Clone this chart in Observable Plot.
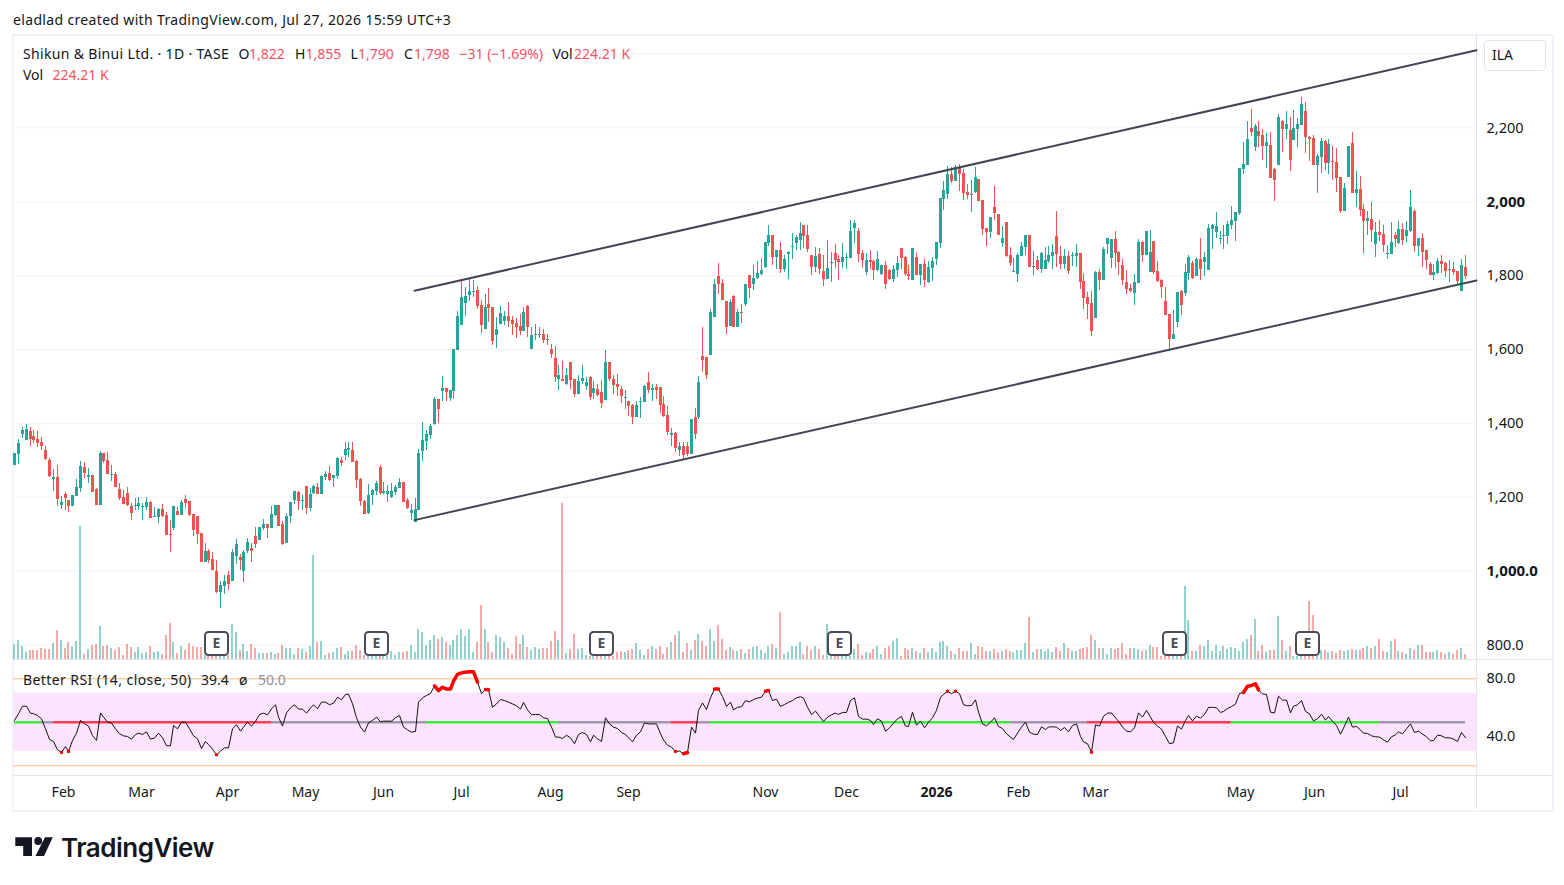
<!DOCTYPE html>
<html><head><meta charset="utf-8">
<script src="https://cdn.jsdelivr.net/npm/d3@7"></script>
<script src="https://cdn.jsdelivr.net/npm/@observablehq/plot@0.6"></script>
<style>
html,body{margin:0;padding:0;background:#fff;}
#stage{position:relative;width:1564px;height:885px;overflow:hidden;font-family:"Noto Sans",sans-serif;color:#131722;font-size:14px;}
#stage svg{position:absolute;left:0;}
.t{position:absolute;white-space:pre;line-height:18px;}
.r{color:#f7525f;}
.ln{position:absolute;background:#e0e3eb;}
</style></head><body>
<div id="stage">
<div class="t" style="left:13px;top:11px;letter-spacing:0.34px;">eladlad created with TradingView.com, Jul 27, 2026 15:59 UTC+3</div>
<div id="frame" style="position:absolute;left:12px;top:34px;width:1538px;height:774px;border:2px solid #f0f3fa;"></div>
<div class="ln" style="left:13px;top:659px;width:1538px;height:1px;"></div>
<div class="ln" style="left:13px;top:775px;width:1538px;height:1px;"></div>
<div class="ln" style="left:1476px;top:35px;width:1px;height:774px;"></div>
<div id="charts"></div>
<div class="t" style="left:23px;top:45px;letter-spacing:0.33px;">Shikun &amp; Binui Ltd. · 1D · TASE</div>
<div class="t" style="left:238.5px;top:45px;">O</div><div class="t r" style="left:249px;top:45px;">1,822</div>
<div class="t" style="left:295px;top:45px;">H</div><div class="t r" style="left:305.5px;top:45px;">1,855</div>
<div class="t" style="left:350.5px;top:45px;">L</div><div class="t r" style="left:358px;top:45px;">1,790</div>
<div class="t" style="left:404px;top:45px;">C</div><div class="t r" style="left:414px;top:45px;">1,798</div>
<div class="t r" style="left:459.5px;top:45px;">−31 (−1.69%)</div>
<div class="t" style="left:552.5px;top:45px;">Vol</div><div class="t r" style="left:574px;top:45px;">224.21 K</div>
<div class="t" style="left:23px;top:66px;">Vol</div><div class="t r" style="left:52.5px;top:66px;">224.21 K</div>
<div class="t" style="left:23px;top:671px;letter-spacing:0.42px;">Better RSI (14, close, 50)</div>
<div class="t" style="left:201px;top:671px;">39.4</div>
<div class="t" style="left:239px;top:671px;">ø</div>
<div class="t" style="left:258px;top:671px;color:#8f929c;">50.0</div>
<div style="position:absolute;left:1484px;top:40px;width:60px;height:29px;border:1px solid #e0e3eb;border-radius:4px;"></div>
<div class="t" style="left:1492px;top:46px;">ILA</div>
<svg width="40" height="22" style="left:14px;top:836px;" viewBox="0 0 40 22"><path fill="#131722" d="M1.3 1.3H18V20H9.2V10H1.3Z"/><circle cx="24.2" cy="5" r="3.9" fill="#131722"/><path fill="#131722" d="M31 1.3H38.8L30 20H21.5Z"/></svg>
<div class="t" style="left:61px;top:832px;font-family:Inter,sans-serif;font-weight:600;font-size:26px;line-height:32px;letter-spacing:-0.5px;color:#131722;">TradingView</div>
</div>
<script>
const open = [
1286,1316,1370,1354,1377,1364,1356,1348,1326,1299,
1248,1253,1178,1207,1192,1175,1203,1224,1281,1253,
1259,1221,1178,1318,1300,1258,1262,1221,1200,1210,
1175,1175,1175,1173,1173,1186,1146,1146,1167,1151,
1100,1116,1162,1151,1194,1189,1154,1148,1102,1024,
1054,1032,1000,943,959,989,973,1040,1038,1000,
1054,1062,1094,1084,1116,1127,1116,1151,1178,1127,
1075,1148,1192,1213,1189,1229,1170,1211,1227,1208,
1254,1265,1251,1257,1300,1313,1327,1327,1297,1248,
1189,1156,1205,1216,1281,1211,1208,1200,1213,1224,
1240,1192,1157,1132,1165,1324,1351,1367,1397,1465,
1486,1495,1468,1486,1597,1665,1724,1746,1754,1759,
1719,1654,1722,1713,1638,1668,1676,1689,1678,1670,
1662,1649,1716,1600,1638,1638,1640,1627,1600,1576,
1519,1519,1505,1565,1519,1478,1513,1500,1524,1481,
1492,1484,1462,1565,1519,1505,1492,1468,1459,1449,
1416,1457,1457,1511,1489,1497,1497,1451,1422,1367,
1373,1327,1338,1338,1316,1416,1416,1581,1578,1584,
1686,1797,1778,1730,1662,1743,1660,1700,1722,1800,
1776,1792,1803,1822,1887,1908,1849,1868,1816,1857,
1876,1887,1895,1935,1908,1854,1822,1857,1811,1789,
1832,1860,1843,1835,1846,1846,1927,1919,1860,1808,
1841,1838,1814,1803,1827,1814,1789,1814,1873,1849,
1803,1787,1849,1800,1830,1781,1819,1843,1887,2005,
2019,2073,2054,2089,2076,2024,2016,2024,2060,2003,
1927,1916,1984,1965,1887,1943,1854,1808,1803,1851,
1876,1908,1822,1841,1816,1816,1838,1851,1905,1851,
1830,1851,1851,1851,1860,1784,1740,1724,1684,1808,
1787,1884,1846,1897,1862,1827,1781,1765,1751,1778,
1889,1854,1808,1892,1811,1786,1730,1695,1627,1673,
1757,1751,1805,1832,1797,1843,1835,1814,1924,1916,
1897,1905,1905,1935,1946,1968,2087,2098,2198,2147,
2190,2179,2150,2152,2087,2098,2217,2196,2193,2166,
2196,2206,2244,2174,2171,2098,2120,2163,2104,2109,
2106,2066,1974,2066,2158,2023,2033,1979,1947,1952,
1885,1917,1912,1858,1858,1909,1887,1925,1906,1920,
1974,1879,1901,1868,1831,1801,1806,1839,1833,1814,
1817,1812,1758,1822];
const high = [
1318,1356,1390,1397,1388,1380,1377,1362,1337,1304,
1275,1286,1202,1214,1192,1205,1248,1297,1294,1277,
1259,1224,1323,1319,1321,1286,1267,1237,1219,1226,
1183,1196,1198,1184,1199,1189,1172,1169,1181,1160,
1138,1175,1172,1192,1205,1189,1154,1148,1102,1075,
1059,1051,1030,973,988,1000,1058,1085,1046,1057,
1089,1075,1119,1119,1140,1127,1175,1178,1178,1135,
1156,1186,1216,1216,1205,1229,1225,1232,1237,1259,
1270,1284,1259,1307,1308,1348,1348,1348,1300,1251,
1192,1235,1221,1243,1286,1240,1232,1237,1231,1250,
1240,1197,1181,1197,1330,1401,1381,1397,1470,1465,
1527,1495,1489,1600,1703,1784,1768,1792,1786,1770,
1732,1749,1765,1713,1686,1716,1703,1727,1689,1684,
1695,1713,1719,1659,1668,1659,1654,1640,1613,1608,
1557,1567,1549,1565,1519,1530,1557,1524,1527,1513,
1505,1516,1597,1565,1530,1532,1500,1489,1459,1451,
1459,1470,1503,1538,1505,1505,1497,1473,1446,1386,
1376,1349,1349,1349,1411,1440,1527,1659,1578,1708,
1789,1832,1789,1730,1735,1746,1708,1722,1776,1800,
1827,1838,1846,1889,1935,1908,1868,1889,1854,1865,
1914,1908,1943,1935,1935,1854,1876,1873,1854,1895,
1862,1884,1854,1886,1860,1948,1948,1927,1868,1860,
1868,1841,1865,1827,1838,1816,1827,1851,1873,1851,
1827,1873,1862,1830,1843,1838,1849,1889,2008,2054,
2095,2092,2097,2100,2087,2046,2057,2092,2060,2003,
1927,1957,2041,1965,1932,1943,1876,1846,1860,1889,
1908,1908,1865,1851,1862,1876,1878,1884,1973,1878,
1870,1865,1862,1884,1860,1805,1754,1757,1811,1816,
1876,1900,1897,1919,1865,1843,1813,1776,1803,1897,
1892,1919,1922,1892,1838,1789,1768,1695,1705,1754,
1760,1830,1854,1838,1846,1900,1862,1938,1938,1970,
1919,1935,1946,1986,1970,2090,2160,2217,2250,2209,
2217,2196,2185,2187,2090,2236,2220,2244,2228,2247,
2225,2282,2269,2177,2179,2128,2171,2166,2169,2150,
2144,2066,2050,2150,2187,2082,2068,1993,1974,1998,
1944,1950,1936,1882,1944,1917,1947,1941,1947,2031,
1979,1901,1914,1868,1836,1831,1847,1855,1836,1841,
1836,1812,1844,1855];
const low = [
1286,1289,1360,1354,1338,1345,1336,1327,1300,1253,
1216,1175,1167,1165,1160,1175,1203,1214,1250,1237,
1213,1178,1178,1291,1262,1243,1226,1192,1180,1174,
1138,1163,1163,1136,1165,1142,1145,1130,1145,1097,
1051,1109,1151,1151,1169,1148,1094,1073,1024,1024,
1021,1002,940,900,938,948,973,1019,1002,970,
1049,1024,1062,1084,1111,1089,1116,1147,1121,1070,
1075,1130,1181,1165,1165,1154,1162,1207,1208,1208,
1246,1243,1226,1248,1284,1300,1308,1294,1224,1175,
1154,1154,1178,1205,1205,1208,1187,1197,1206,1224,
1186,1166,1138,1132,1165,1297,1327,1357,1395,1400,
1459,1459,1459,1465,1597,1665,1689,1730,1740,1708,
1643,1654,1673,1611,1603,1668,1665,1659,1638,1630,
1638,1649,1632,1600,1624,1630,1616,1611,1576,1511,
1489,1513,1503,1492,1470,1478,1505,1489,1462,1465,
1473,1440,1462,1513,1478,1473,1454,1438,1419,1397,
1416,1413,1457,1481,1459,1465,1427,1416,1368,1338,
1322,1311,1300,1311,1316,1357,1411,1538,1519,1584,
1686,1749,1732,1640,1662,1660,1660,1670,1716,1738,
1759,1789,1801,1819,1878,1827,1816,1805,1808,1789,
1843,1868,1868,1873,1862,1800,1808,1803,1770,1789,
1781,1819,1787,1819,1816,1846,1887,1835,1819,1800,
1816,1787,1811,1800,1762,1787,1781,1795,1816,1797,
1787,1787,1800,1773,1768,1778,1784,1827,1873,1976,
2005,2049,2054,2027,2003,2005,1970,2022,2000,1908,
1878,1900,1949,1908,1876,1849,1824,1808,1781,1851,
1854,1822,1800,1813,1805,1816,1832,1816,1822,1816,
1816,1803,1824,1822,1762,1708,1681,1635,1684,1760,
1787,1857,1819,1819,1800,1773,1749,1754,1719,1778,
1835,1854,1808,1803,1781,1738,1692,1595,1627,1660,
1692,1743,1787,1789,1797,1787,1797,1814,1870,1900,
1884,1870,1884,1924,1892,1963,2074,2098,2177,2136,
2147,2112,2090,2063,2001,2098,2133,2169,2082,2166,
2147,2206,2131,2109,2098,2023,2077,2085,2074,2058,
2025,1968,1974,2066,2023,1985,1960,1860,1909,1890,
1850,1893,1863,1844,1858,1877,1885,1882,1890,1917,
1863,1852,1823,1817,1801,1787,1804,1806,1795,1782,
1801,1777,1758,1790];
const close = [
1318,1345,1380,1383,1356,1354,1346,1338,1302,1257,
1253,1194,1186,1196,1175,1204,1226,1284,1264,1259,
1213,1178,1319,1297,1262,1262,1226,1196,1180,1178,
1156,1178,1184,1175,1186,1143,1148,1167,1148,1097,
1097,1175,1151,1186,1184,1151,1111,1100,1024,1054,
1030,1002,943,962,973,965,1051,1073,1030,1051,
1078,1054,1073,1119,1127,1116,1154,1178,1121,1073,
1148,1186,1216,1189,1192,1170,1208,1229,1208,1257,
1262,1246,1259,1305,1292,1329,1332,1294,1246,1189,
1154,1205,1219,1238,1211,1216,1216,1216,1227,1240,
1186,1170,1165,1167,1319,1354,1370,1392,1465,1438,
1495,1484,1489,1600,1689,1740,1743,1757,1757,1716,
1665,1713,1711,1622,1654,1697,1689,1676,1668,1659,
1649,1700,1659,1638,1640,1640,1624,1624,1586,1524,
1530,1513,1530,1516,1478,1513,1522,1511,1470,1495,
1476,1454,1565,1519,1503,1497,1473,1470,1446,1416,
1449,1459,1500,1489,1495,1489,1449,1419,1376,1373,
1332,1338,1313,1316,1411,1370,1511,1570,1530,1700,
1776,1776,1732,1659,1727,1660,1700,1697,1776,1765,
1792,1805,1814,1889,1908,1849,1868,1816,1843,1862,
1878,1903,1914,1905,1870,1822,1851,1816,1789,1819,
1835,1841,1835,1849,1849,1919,1941,1857,1841,1841,
1835,1814,1843,1827,1776,1789,1816,1832,1846,1803,
1797,1873,1800,1830,1787,1822,1838,1889,2008,2030,
2073,2054,2092,2073,2022,2016,2019,2065,2000,1924,
1916,1957,1968,1908,1900,1851,1832,1811,1854,1878,
1908,1822,1824,1816,1860,1841,1854,1862,1857,1830,
1851,1811,1854,1860,1781,1738,1722,1649,1808,1787,
1870,1900,1897,1860,1835,1787,1762,1757,1781,1889,
1854,1919,1862,1808,1784,1768,1692,1627,1641,1754,
1719,1808,1849,1792,1843,1816,1849,1927,1935,1932,
1900,1908,1938,1949,1970,2090,2101,2169,2187,2204,
2177,2150,2160,2063,2058,2228,2196,2209,2112,2198,
2209,2263,2174,2169,2098,2123,2163,2104,2155,2106,
2063,1974,2036,2150,2023,2033,1977,1947,1955,1923,
1917,1909,1882,1860,1890,1898,1925,1895,1923,1985,
1879,1901,1863,1841,1801,1809,1839,1831,1812,1817,
1809,1785,1828,1798];
const volumeK = [
644,812,560,308,392,392,392,476,434,434,
686,1232,812,476,728,560,770,5600,224,434,
602,644,1400,560,602,476,392,518,182,644,
518,308,518,266,308,560,308,350,224,1022,
1526,728,266,560,392,686,560,518,518,182,
140,140,140,140,140,182,1484,1148,392,644,
350,644,476,266,266,266,308,224,266,602,
476,476,224,476,434,308,560,4382,728,770,
182,266,308,476,518,224,350,350,602,392,
182,140,140,140,140,140,140,350,182,308,
308,350,602,308,1274,1148,602,812,1022,854,
938,728,602,812,1022,1274,980,1274,308,728,
2282,1274,728,308,1022,938,728,476,224,980,
644,1022,518,392,518,434,476,476,770,1190,
812,6552,266,434,1064,434,476,182,140,140,
140,140,140,140,140,308,350,308,392,434,
686,392,182,434,560,434,560,224,518,728,
1022,1190,308,686,392,812,1064,770,560,1274,
770,1442,854,392,518,392,350,434,266,434,
518,560,392,266,560,644,476,1988,224,308,
560,560,728,224,560,392,560,434,182,1484,
140,140,140,140,140,140,434,644,182,308,
266,434,560,224,476,560,770,896,140,462,
392,462,350,252,462,294,462,280,714,770,
560,350,224,462,350,350,672,224,560,504,
350,350,420,280,322,420,350,308,392,392,
686,1778,280,420,420,350,420,280,504,350,
686,462,350,350,420,462,518,1022,812,462,
462,196,462,420,462,686,224,462,462,420,
350,392,602,504,504,140,140,140,140,140,
140,3080,1652,350,350,602,560,812,350,602,
350,560,420,504,462,350,728,854,1022,1694,
350,602,308,392,392,1820,812,350,560,140,
140,140,140,2450,1862,140,392,392,308,350,
266,392,350,392,434,392,392,462,560,462,
560,854,350,308,770,854,350,308,224,476,
392,602,602,308,308,308,392,308,224,308,
224,392,476,224];
const rsi = [
51.3,55.9,61.1,61.1,56.3,55.9,54.7,52.4,45.5,38.2,
36.8,31.0,29.2,33.3,29.8,37.5,42.5,51.3,49.0,47.4,
40.9,37.5,56.5,53.6,50.1,49.4,45.5,42.1,40.7,40.2,
38.4,41.6,42.5,41.6,43.4,38.4,39.1,42.5,39.3,33.8,
33.8,47.8,45.5,50.1,50.1,45.5,40.7,38.6,31.9,36.8,
34.7,31.5,27.6,30.1,32.4,32.4,45.5,48.3,43.9,46.7,
50.1,47.4,50.6,55.4,56.3,55.2,59.3,62.1,53.6,47.4,
56.5,60.0,62.1,59.1,59.1,56.3,59.8,62.1,59.3,63.9,
63.9,62.1,63.2,67.3,65.5,69.2,69.4,62.8,53.1,46.7,
43.2,49.6,51.3,53.6,50.3,50.8,50.8,50.8,53.1,54.7,
46.7,44.8,43.2,43.7,63.9,66.9,68.5,69.8,75.2,71.9,
74.2,72.9,72.9,78.4,83.0,84.1,84.6,84.8,84.8,77.7,
69.8,72.6,72.4,60.4,62.7,65.7,65.0,63.9,62.7,61.4,
59.1,63.7,58.6,55.2,55.4,55.4,53.1,52.6,46.7,39.8,
39.8,38.8,41.1,39.3,35.2,41.6,43.0,41.6,36.5,41.1,
38.6,36.8,53.1,48.9,46.7,45.7,43.0,41.6,39.3,36.5,
41.1,43.4,49.6,48.9,48.9,48.9,42.1,37.9,34.2,32.9,
29.8,30.2,28.3,29.2,46.7,42.5,58.2,63.4,58.8,66.9,
72.9,72.9,67.8,60.9,63.9,58.6,60.4,60.7,65.0,64.1,
65.7,66.7,67.3,71.5,71.9,65.0,66.0,60.9,62.3,63.7,
65.0,66.9,67.6,66.7,60.4,55.4,57.7,54.0,50.6,53.6,
55.2,56.3,55.4,56.8,56.8,65.0,66.9,54.0,52.2,52.2,
51.3,48.5,52.4,50.8,43.9,46.2,49.4,52.4,54.0,47.4,
47.1,57.0,48.0,50.8,46.2,50.1,53.1,58.2,67.3,69.2,
71.5,69.6,71.5,69.8,62.1,61.4,61.6,65.5,57.0,48.9,
47.6,50.1,53.1,47.1,45.7,42.1,39.8,38.2,42.5,46.7,
50.1,43.2,41.8,41.6,46.9,45.0,46.7,46.9,46.7,44.4,
46.4,43.4,47.8,48.9,40.2,36.5,35.2,29.4,48.3,47.4,
54.2,56.3,56.5,53.1,50.8,46.7,43.9,43.4,46.2,56.5,
53.6,58.2,53.6,49.9,47.4,45.3,40.2,35.2,35.9,47.4,
45.3,51.3,54.7,51.0,54.2,52.9,55.4,60.2,60.4,60.0,
56.8,57.5,59.5,60.9,62.5,69.9,70.6,74.9,75.4,76.5,
72.4,69.6,69.2,57.0,56.5,68.0,65.3,65.3,56.5,61.1,
62.1,65.0,57.5,55.9,51.0,52.4,55.6,51.5,54.0,50.8,
47.8,41.8,47.4,53.6,46.7,47.1,44.8,42.5,42.3,40.7,
40.0,39.8,37.9,36.3,40.0,41.4,43.4,42.1,45.5,48.9,
43.0,43.9,41.8,40.0,37.2,37.5,41.1,40.7,39.3,39.3,
38.4,36.8,43.0,39.4];

const priceTicks = [800,1000,1200,1400,1600,1800,2000,2200];
const priceLabels = ["800.0","1,000.0","1,200","1,400","1,600","1,800","2,000","2,200"];
const boldPrices = [1000,2000];
const gridPrices = [800,1000,1200,1400,1600,1800,2000,2200,2400];
const rsiTicks = [80,40];
const rsiLabels = ["80.0","40.0"];
const timeTicks = [12.6,32.6,54.8,74.8,94.9,115,137.8,157.9,193.1,213.9,237,258.2,278,315.3,334.3,356.4];
const timeLabels = ["Feb","Mar","Apr","May","Jun","Jul","Aug","Sep","Nov","Dec","2026","Feb","Mar","May","Jun","Jul"];
const boldTimes = [237];
const earnings = [52,93.1,150.9,212.1,298.3,332.5];
const upperTrend = [{d:102.85,p:1759},{d:375.94,p:2410}];
const lowerTrend = [{d:102.85,p:1138},{d:375.94,p:1787}];
const segStart = [0,7,10,66,106,140,169,176,179,256,276,313,351];
const segEnd = [7,10,66,106,140,169,176,179,256,276,313,351,373];
const segState = ["up","flat","down","flat","up","flat","down","flat","up","flat","down","up","flat"];

const GREEN="#26a69a", RED="#ef5350", FONT='"Noto Sans",sans-serif', INK="#131722";
const days = d3.range(open.length);
const candleColor = i => close[i] >= open[i] ? GREEN : RED;
const xDomain = [-0.26,375.94];
const priceLabel = new Map(d3.zip(priceTicks,priceLabels));
const rsiLabel = new Map(d3.zip(rsiTicks,rsiLabels));
const timeLabel = new Map(d3.zip(timeTicks,timeLabels));
const base = {width:1564, marginLeft:13, marginRight:88};
const roundedBox = {draw(ctx,size){const r=Math.sqrt(size/Math.PI),c=3.5;
  ctx.moveTo(-r+c,-r);ctx.lineTo(r-c,-r);ctx.arcTo(r,-r,r,-r+c,c);ctx.lineTo(r,r-c);ctx.arcTo(r,r,r-c,r,c);
  ctx.lineTo(-r+c,r);ctx.arcTo(-r,r,-r,r-c,c);ctx.lineTo(-r,-r+c);ctx.arcTo(-r,-r,-r+c,-r,c);ctx.closePath();}};

const priceChart = Plot.plot({...base, height:660, marginTop:35, marginBottom:1,
  style:{background:"transparent",fontFamily:FONT,fontSize:"14px",color:INK,top:"0px"},
  x:{domain:xDomain, round:true, axis:null},
  y:{domain:[760.7,2450.1]},
  marks:[
    Plot.ruleY(gridPrices,{stroke:"#f0f3fa",strokeWidth:1}),
    Plot.ruleX(days,{x:i=>i,y1:i=>low[i],y2:i=>high[i],stroke:candleColor,strokeWidth:1,clip:true,shapeRendering:"crispEdges"}),
    Plot.ruleX(days,{x:i=>i,y1:i=>open[i],y2:i=>close[i],stroke:candleColor,strokeWidth:3,clip:true,shapeRendering:"crispEdges"}),
    Plot.line(upperTrend,{x:"d",y:"p",stroke:"#434651",strokeWidth:2}),
    Plot.line(lowerTrend,{x:"d",y:"p",stroke:"#434651",strokeWidth:2}),
    Plot.axisY(priceTicks.filter(v=>!boldPrices.includes(v)),{anchor:"right",tickSize:0,tickPadding:10,label:null,tickFormat:v=>priceLabel.get(v),fontSize:14.5}),
    Plot.axisY(boldPrices,{anchor:"right",tickSize:0,tickPadding:10,label:null,tickFormat:v=>priceLabel.get(v),fontSize:15,fontWeight:"bold"})
  ]});

const volumeChart = Plot.plot({...base, height:660, marginTop:35, marginBottom:1,
  style:{background:"transparent",fontFamily:FONT,fontSize:"14px",color:INK,top:"0px"},
  x:{domain:xDomain, round:true, axis:null},
  y:{domain:[0,26208], axis:null},
  marks:[
    Plot.ruleX(days,{x:i=>i,y1:0,y2:i=>volumeK[i],stroke:candleColor,strokeOpacity:0.5,strokeWidth:2,dx:-0.5,clip:true,shapeRendering:"crispEdges"}),
    Plot.dot(earnings,{x:d=>d,y:672,r:11.5,symbol:roundedBox,fill:"#fff",stroke:"#4a4d57",strokeWidth:2}),
    Plot.text(earnings,{x:d=>d,y:672,text:()=>"E",fontSize:14,fontWeight:"bold",fill:"#4a4d57"})
  ]});

const rsiChart = Plot.plot({...base, height:150, marginTop:0, marginBottom:34.5,
  style:{background:"transparent",fontFamily:FONT,fontSize:"14px",color:INK,top:"660px"},
  x:{domain:xDomain, round:true},
  y:{domain:[12.97,92.62]},
  marks:[
    Plot.rect([0],{y1:30,y2:70,fill:"#fde4fe"}),
    Plot.ruleY([40],{stroke:"#f3e3f6",strokeWidth:1}),
    Plot.ruleY([80,20],{stroke:"#f8bc7c",strokeWidth:1}),
    Plot.ruleY(d3.range(segState.length),{x1:k=>segStart[k],x2:k=>segEnd[k],y:50,strokeWidth:2.5,
      stroke:k=>segState[k]==="up"?"#3bee3b":segState[k]==="down"?"#ff3d52":"#a296ad"}),
    Plot.line(days,{x:i=>i,y:i=>rsi[i],stroke:"#111",strokeWidth:1}),
    Plot.line(days,{x:i=>i,y:i=>(rsi[i]>70||rsi[i]<30)?rsi[i]:NaN,stroke:"#ff0000",strokeWidth:3.5}),
    Plot.axisY(rsiTicks,{anchor:"right",tickSize:0,tickPadding:10,label:null,tickFormat:v=>rsiLabel.get(v),fontSize:14.5}),
    Plot.axisX(timeTicks.filter(v=>!boldTimes.includes(v)),{anchor:"bottom",tickSize:0,tickPadding:11,label:null,tickFormat:v=>timeLabel.get(v),fontSize:14}),
    Plot.axisX(boldTimes,{anchor:"bottom",tickSize:0,tickPadding:11,label:null,tickFormat:v=>timeLabel.get(v),fontSize:14,fontWeight:"bold"})
  ]});

const host = document.getElementById("charts");
host.append(priceChart, volumeChart, rsiChart);
</script>
</body></html>
